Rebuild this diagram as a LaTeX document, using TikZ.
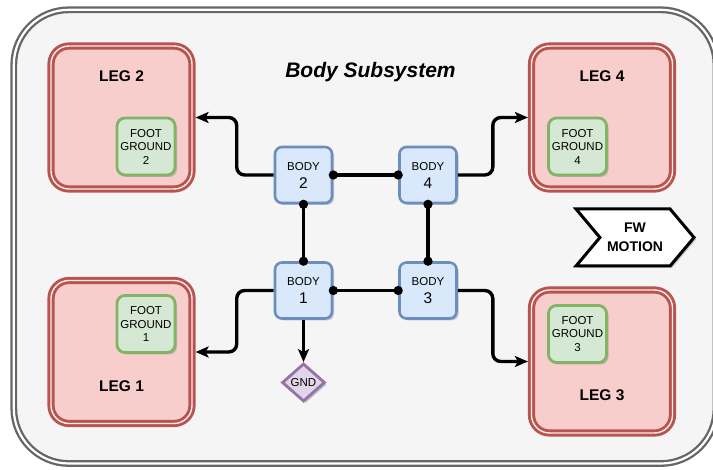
\documentclass[tikz,border=0pt]{standalone}
\usepackage{fontspec}
\setmainfont{Liberation Sans}
\usepackage{xcolor}
\definecolor{frame}{HTML}{666666}
\definecolor{panel}{HTML}{F5F5F5}
\definecolor{legline}{HTML}{B85450}
\definecolor{legfill}{HTML}{F8CECC}
\definecolor{footline}{HTML}{82B366}
\definecolor{footfill}{HTML}{D5E8D4}
\definecolor{bodyline}{HTML}{6C8EBF}
\definecolor{bodyfill}{HTML}{DAE8FC}
\definecolor{gndline}{HTML}{9673A6}
\definecolor{gndfill}{HTML}{E1D5E7}
\usepackage{tikz}
\usetikzlibrary{arrows.meta,positioning,calc,shapes.geometric,shapes.symbols,shadows}

\begin{document}
\begin{tikzpicture}[
  x=1pt, y=-1pt,
  font=\fontsize{11.5}{13.5}\selectfont,
  shd/.style={drop shadow={shadow xshift=2pt, shadow yshift=-2pt, opacity=.35, fill=black!60}},
  leg/.style={shd, draw=legline, fill=legfill, line width=2.9pt, double=legfill!40!white,
    double distance=1.4pt, rounded corners=18pt, minimum width=141pt, minimum height=143pt,
    outer sep=3.6pt},
  legtxt/.style={font=\bfseries\fontsize{15.5}{18}\selectfont},
  foot/.style={shd, draw=footline, fill=footfill, line width=2.8pt, rounded corners=8pt,
    minimum width=58pt, minimum height=57pt, inner sep=0pt, align=center},
  body/.style={shd, draw=bodyline, fill=bodyfill, line width=2.6pt, rounded corners=7pt,
    minimum width=57pt, minimum height=56pt, inner sep=0pt, align=center,
    font=\fontsize{11.5}{18}\selectfont},
  gnd/.style={shd, diamond, aspect=1.1, draw=gndline, fill=gndfill, line width=2.8pt,
    minimum width=43pt, minimum height=38pt, inner sep=0pt},
  fw/.style={shd, signal, signal to=east, signal from=west, signal pointer angle=100,
    draw=black, fill=white, line width=3pt, minimum width=118pt, minimum height=57pt,
    inner sep=0pt, align=center, font=\bfseries\fontsize{14}{19.5}\selectfont},
  link/.style={-{Stealth[length=13pt, width=11pt, inset=3pt]}, line width=3.4pt, rounded corners=8pt},
  bus/.style={{Circle[length=9pt]}-{Circle[length=9pt]}, line width=3.4pt,
    shorten <=-4.5pt, shorten >=-4.5pt}
]
  \useasboundingbox (0,0) rectangle (713,470);
  \draw[shd, draw=frame, fill=panel, line width=2.3pt, double=white, double distance=2.2pt,
    rounded corners=55pt] (13.8,9.8) rectangle (716,463.5);
  \node[font=\bfseries\itshape\fontsize{21}{25}\selectfont, anchor=base] (title) at (370.5,78) {Body Subsystem};

  \node[leg] (leg2) at (121.5,117.5) {};
  \node[leg] (leg4) at (602,117.5) {};
  \node[leg] (leg1) at (121.5,352) {};
  \node[leg] (leg3) at (602,361.5) {};
  \node[legtxt] (leg2t) at ([yshift=-34pt]leg2.north) {LEG 2};
  \node[legtxt] (leg4t) at ([yshift=-34pt]leg4.north) {LEG 4};
  \node[legtxt] (leg1t) at ([yshift=41pt]leg1.south) {LEG 1};
  \node[legtxt] (leg3t) at ([yshift=41pt]leg3.south) {LEG 3};

  \node[foot] (ft2) at (146,146.5) {FOOT\\GROUND\\2};
  \node[foot] (ft4) at (577.5,146.5) {FOOT\\GROUND\\4};
  \node[foot] (ft1) at (146,324) {FOOT\\GROUND\\1};
  \node[foot] (ft3) at (577.5,334) {FOOT\\GROUND\\3};

  \node[body] (b2) at (303.5,175) {BODY\\{\fontsize{15.5}{18}\selectfont 2}};
  \node[body] (b4) at (428,175) {BODY\\{\fontsize{15.5}{18}\selectfont 4}};
  \node[body] (b1) at (303.5,290.5) {BODY\\{\fontsize{15.5}{18}\selectfont 1}};
  \node[body] (b3) at (428,290.5) {BODY\\{\fontsize{15.5}{18}\selectfont 3}};

  \node[gnd] (gnd) at (303.5,382.5) {GND};
  \node[fw] (fw) at (635,237.5) {FW\\MOTION};

  \draw[bus] (b2.east) -- (b4.west);
  \draw[bus] (b1.east) -- (b3.west);
  \draw[bus] (b2.south) -- (b1.north);
  \draw[bus] (b4.south) -- (b3.north);
  \draw[link] (b2.west) -- ++(-37,0) |- (leg2.east);
  \draw[link] (b1.west) -- ++(-37,0) |- (leg1.east);
  \draw[link] (b4.east) -- ++(35,0) |- (leg4.west);
  \draw[link] (b3.east) -- ++(35,0) |- (leg3.west);
  \draw[link] (b1.south) -- (gnd.north);
\end{tikzpicture}
\end{document}
